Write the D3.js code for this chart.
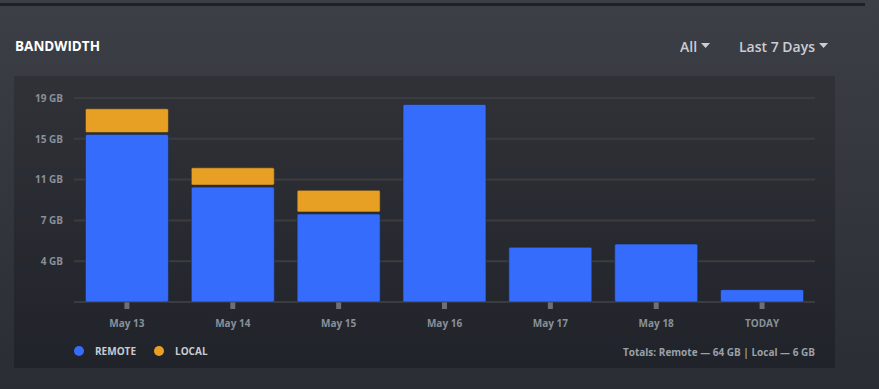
<!DOCTYPE html>
<html>
<meta charset="utf-8">
<head>
<style>
body { margin: 0; background: #2f3238; }
text { font-family: "Open Sans", sans-serif; }
.grid line { stroke: #3a3c42; stroke-width: 2px; }
.yaxis text { fill: #8a9099; font-size: 10px; font-weight: 700; }
.xaxis text { fill: #8a9099; font-size: 10px; font-weight: 700; }
</style>
</head>
<body>
<svg width="879" height="389"></svg>

<script src="https://d3js.org/d3.v7.min.js"></script>
<script>

var days = ["May 13", "May 14", "May 15", "May 16", "May 17", "May 18", "TODAY"];
var remote = [15.6, 10.7, 8.2, 18.4, 5.1, 5.4, 1.15];
var local = [2.4, 1.8, 2.2, 0, 0, 0, 0];
var yMax = 19;
var tickLabels = ["4 GB", "7 GB", "11 GB", "15 GB", "19 GB"];
var totalsText = "Totals: Remote \u2014 64 GB | Local \u2014 6 GB";

var svg = d3.select("svg"),
    width = +svg.attr("width"),
    height = +svg.attr("height");

var defs = svg.append("defs");
var bg = defs.append("linearGradient").attr("id", "bg").attr("x1", 0).attr("y1", 0).attr("x2", 0).attr("y2", 1);
bg.append("stop").attr("offset", "0%").attr("stop-color", "#3c3f46");
bg.append("stop").attr("offset", "100%").attr("stop-color", "#2a2d33");
var pg = defs.append("linearGradient").attr("id", "pg").attr("x1", 0).attr("y1", 0).attr("x2", 0).attr("y2", 1);
pg.append("stop").attr("offset", "0%").attr("stop-color", "#303238");
pg.append("stop").attr("offset", "100%").attr("stop-color", "#202329");

svg.append("rect").attr("width", width).attr("height", height).attr("fill", "url(#bg)");
// top divider
svg.append("rect").attr("x", 0).attr("y", 3).attr("width", 865).attr("height", 3).attr("fill", "#1f2125");

// header
svg.append("text").attr("x", 15).attr("y", 51)
    .attr("fill", "#ffffff").style("font-size", "13.5px").style("font-weight", 700)
    .text("BANDWIDTH");

function dropdown(x, label) {
  var t = svg.append("text").attr("x", x).attr("y", 52)
      .attr("fill", "#c9cdd4").style("font-size", "14px").style("font-weight", 600)
      .text(label);
  var w = t.node().getComputedTextLength();
  var tx = x + w + 4;
  svg.append("path")
      .attr("d", "M" + tx + ",43L" + (tx + 9) + ",43L" + (tx + 4.5) + ",48Z")
      .attr("fill", "#c9cdd4");
}
dropdown(680, "All");
dropdown(739, "Last 7 Days");

// panel
svg.append("rect").attr("x", 14).attr("y", 76).attr("width", 821).attr("height", 292).attr("fill", "url(#pg)");

var x = d3.scaleBand().domain(days).range([74, 815]).paddingInner(0.216).paddingOuter(0.108);
var y = d3.scaleLinear().domain([0, yMax]).range([302, 98]);

var tickVals = d3.range(1, tickLabels.length + 1).map(function(k) { return k * yMax / tickLabels.length; });

// gridlines
svg.append("g").attr("class", "grid")
  .selectAll("line").data([0].concat(tickVals)).enter().append("line")
    .attr("x1", 74).attr("x2", 815)
    .attr("y1", function(d) { return y(d); })
    .attr("y2", function(d) { return y(d); });

// y axis labels
var yAxis = d3.axisLeft(y).tickValues(tickVals)
    .tickFormat(function(d, i) { return tickLabels[i]; })
    .tickSize(0).tickPadding(0);
svg.append("g").attr("class", "yaxis").attr("transform", "translate(63,0)").call(yAxis)
  .call(function(g) { g.select(".domain").remove(); });

// tick marks under bars
svg.append("g").selectAll("rect").data(days).enter().append("rect")
    .attr("x", function(d) { return x(d) + x.bandwidth() / 2 - 2.5; })
    .attr("y", 302).attr("width", 5).attr("height", 7)
    .attr("fill", "#6e6f72");

// x axis labels
var xAxis = d3.axisBottom(x).tickSize(0).tickPadding(0);
svg.append("g").attr("class", "xaxis").attr("transform", "translate(0,320)").call(xAxis)
  .call(function(g) { g.select(".domain").remove(); });

// bars
var bars = svg.append("g");
days.forEach(function(d, i) {
  bars.append("rect")
      .attr("x", x(d)).attr("width", x.bandwidth())
      .attr("y", y(remote[i])).attr("height", y(0) - y(remote[i]))
      .attr("rx", 1.5)
      .attr("fill", "#356cfb").attr("stroke", "#1f2a44").attr("stroke-width", 0.6);
  if (local[i] > 0) {
    var top = y(remote[i] + local[i]);
    bars.append("rect")
        .attr("x", x(d)).attr("width", x.bandwidth())
        .attr("y", top).attr("height", y(remote[i]) - top - 2)
        .attr("rx", 1.5)
        .attr("fill", "#e8a024").attr("stroke", "#3a3020").attr("stroke-width", 0.6);
  }
});

// legend
var legend = [["REMOTE", "#356cfb", 79], ["LOCAL", "#e8a024", 159]];
legend.forEach(function(l) {
  svg.append("circle").attr("cx", l[2]).attr("cy", 351).attr("r", 5).attr("fill", l[1]);
  svg.append("text").attr("x", l[2] + 16).attr("y", 355)
      .attr("fill", "#c9ccd2").style("font-size", "10px").style("font-weight", 700)
      .text(l[0]);
});

svg.append("text").attr("x", 815).attr("y", 355.5).attr("text-anchor", "end")
    .attr("fill", "#9aa0a8").style("font-size", "10px").style("font-weight", 700)
    .text(totalsText);

</script>
</body>
</html>
